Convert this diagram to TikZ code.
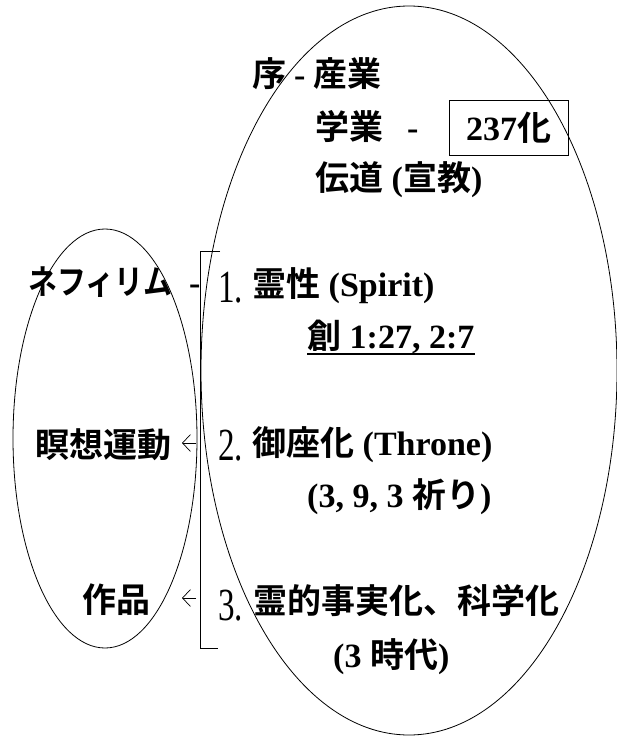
\documentclass[tikz,border=0pt]{standalone}
\usepackage{fontspec}
\setmainfont{Liberation Serif}
\newfontfamily\cjk{Noto Sans CJK JP}[BoldFont={Noto Sans CJK JP Bold}]
\usetikzlibrary{arrows.meta}
\begin{document}
\begin{tikzpicture}[x=1pt,y=-1pt,
  txt/.style={inner sep=0pt, anchor=base west, font=\fontsize{34}{40}\selectfont\bfseries},
  num/.style={inner sep=0pt, anchor=base west, font=\fontsize{46}{50}\selectfont\mdseries},
  outline/.style={line width=0.8pt},
  brk/.style={line width=0.8pt},
  arr/.style={line width=0.7pt, -{Straight Barb[length=8pt,width=17pt]}}]
\useasboundingbox (0,0) rectangle (616,736);
% ellipses
\draw[outline] (409,370.5) ellipse [x radius=208, y radius=364.5];
\draw[outline] (105,438.5) ellipse [x radius=92, y radius=209.5];
% top texts
\node[txt] (jo) at (252,86) {{\cjk 序}\hspace{8pt}-\hspace{8pt}{\cjk 産業}};
\node[txt] (gaku) at (315,139) {{\cjk 学業}\hspace{24pt}-};
\node[txt, draw, line width=0.8pt, anchor=center, minimum width=119pt, minimum height=55pt] (box) at (508.5,127.5) {237{\cjk 化}};
\node[txt] (dendo) at (315,190) {{\cjk 伝道} ({\cjk 宣教})};
% left labels
\node[txt] (neph) at (28,294) {\scalebox{0.85}[1]{\cjk ネフィリム}\hspace{17pt}-};
\node[txt] (meiso) at (35,457) {{\cjk 瞑想運動}};
\node[txt] (sakuhin) at (82,612) {{\cjk 作品}};
% numbered items
\node[num] (n1) at (218,302) {\scalebox{0.72}[1]{1.}};
\node[txt] (rei) at (252,296) {{\cjk 霊性} (Spirit)};
\node[txt] (so) at (307,348) {{\cjk 創} 1:27, 2:7\hspace{6pt}};
\draw[line width=1.2pt] ([yshift=-6pt]so.base west) -- ([yshift=-6pt]so.base east);
\node[num] (n2) at (218,460) {\scalebox{0.72}[1]{2.}};
\node[txt] (gyoza) at (252,455) {{\cjk 御座化} (Throne)};
\node[txt] (inori) at (307,507) {(3, 9, 3 {\cjk 祈り})};
\node[num] (n3) at (218,620) {\scalebox{0.72}[1]{3.}};
\node[txt] (reiteki) at (253,613) {{\cjk 霊的事実化、科学化}};
\node[txt] (jidai) at (333,667) {(3 {\cjk 時代})};
% bracket
\coordinate (bt1) at (220,251);
\coordinate (bt2) at (200,251);
\coordinate (bb2) at (200,648);
\coordinate (bb1) at (218,648);
\draw[brk] (bt1) -- (bt2) -- (bb2) -- (bb1);
% arrows
\coordinate (a2s) at (196,443);
\coordinate (a2e) at (182,443);
\draw[arr] (a2s) -- (a2e);
\coordinate (a3s) at (196,598);
\coordinate (a3e) at (182,598);
\draw[arr] (a3s) -- (a3e);
\end{tikzpicture}
\end{document}
